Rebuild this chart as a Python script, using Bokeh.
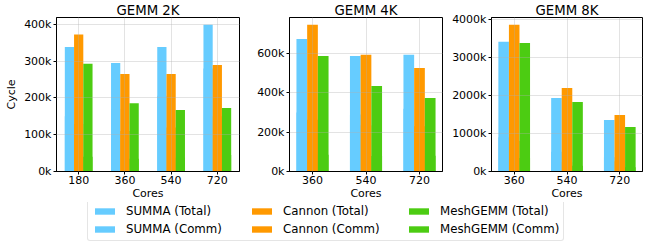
import numpy as np
from bokeh.plotting import figure
from bokeh.models import Range1d, FixedTicker, Legend, LegendItem
from bokeh.layouts import row, column
from bokeh.embed import file_html
from bokeh.resources import INLINE

# ---------------- data (values in thousands of cycles) ----------------
algs = ["SUMMA", "Cannon", "MeshGEMM"]
titles = ["GEMM 2K", "GEMM 4K", "GEMM 8K"]

cores_2k = ["180", "360", "540", "720"]
summa_total_2k = [339, 295, 339, 399]
cannon_total_2k = [373, 265, 265, 290]
mesh_total_2k = [293, 186, 167, 173]
summa_comm_2k = [150, 170, 206, 280]
cannon_comm_2k = [129, 110, 120, 150]
mesh_comm_2k = [40, 35, 38, 45]

cores_4k = ["360", "540", "720"]
summa_total_4k = [675, 588, 594]
cannon_total_4k = [747, 594, 527]
mesh_total_4k = [588, 435, 374]
summa_comm_4k = [300, 290, 320]
cannon_comm_4k = [264, 236, 230]
mesh_comm_4k = [85, 79, 80]

cores_8k = ["360", "540", "720"]
summa_total_8k = [3404, 1930, 1351]
cannon_total_8k = [3851, 2193, 1482]
mesh_total_8k = [3377, 1825, 1167]
summa_comm_8k = [900, 520, 377]
cannon_comm_8k = [798, 245, 270]
mesh_comm_8k = [355, 150, 110]

yticks_2k = [0, 100, 200, 300, 400]
yticks_4k = [0, 200, 400, 600]
yticks_8k = [0, 1000, 2000, 3000, 4000]

# ---------------- style ----------------
FONT = "DejaVu Sans"
colors = {"SUMMA": "#66CCFF", "Cannon": "#FF9900", "MeshGEMM": "#4CCC12"}
BAR_W = 0.2
H = 202


def make_panel(title, cores, totals, comms, yticks, width, left, right, ylabel):
    n = len(cores)
    x = np.arange(n)
    lo, hi = -1.5 * BAR_W, (n - 1) + 1.5 * BAR_W
    m = 0.05 * (hi - lo)
    ymax = 1.05 * max(max(t) for t in totals)
    p = figure(width=width, height=H, title=title,
               x_range=Range1d(lo - m, hi + m), y_range=Range1d(0, ymax),
               output_backend="svg", toolbar_location=None,
               min_border_left=left, min_border_right=right,
               min_border_top=0, min_border_bottom=0)
    # comm bars sit behind the totals
    for i, alg in enumerate(algs):
        xs = x + (i - 1) * BAR_W
        p.vbar(x=xs, top=comms[i], width=BAR_W, fill_color=colors[alg], line_color=None)
    for i, alg in enumerate(algs):
        xs = x + (i - 1) * BAR_W
        p.vbar(x=xs, top=totals[i], width=BAR_W, fill_color=colors[alg], line_color=None)

    p.xaxis.ticker = FixedTicker(ticks=[int(v) for v in x])
    p.xaxis.major_label_overrides = {int(v): c for v, c in zip(x, cores)}
    p.yaxis.ticker = FixedTicker(ticks=yticks)
    p.yaxis.major_label_overrides = {t: f"{t}k" for t in yticks}
    p.xgrid.ticker = FixedTicker(ticks=[int(v) for v in x])
    p.ygrid.ticker = FixedTicker(ticks=yticks)
    p.grid.grid_line_color = "#b0b0b0"
    p.grid.grid_line_alpha = 0.35
    p.grid.level = "overlay"

    p.xaxis.axis_label = "Cores"
    if ylabel:
        p.yaxis.axis_label = ylabel
    for ax in p.axis:
        ax.axis_label_text_font = FONT
        ax.axis_label_text_font_size = "11px"
        ax.axis_label_text_font_style = "normal"
        ax.axis_label_text_color = "black"
        ax.axis_label_standoff = 0
        ax.major_label_text_font = FONT
        ax.major_label_text_font_size = "11px"
        ax.major_label_text_color = "black"
        ax.major_label_standoff = 1
        ax.major_tick_in = 0
        ax.major_tick_out = 3
        ax.major_tick_line_color = "black"
        ax.minor_tick_line_color = None
        ax.axis_line_color = "black"
    p.yaxis.major_label_standoff = 2
    p.yaxis.axis_label_standoff = 3
    p.outline_line_color = "black"
    p.outline_line_width = 1
    p.title.text_font = FONT
    p.title.text_font_size = "13.3px"
    p.title.text_font_style = "normal"
    p.title.text_color = "black"
    p.title.align = "center"
    p.title.standoff = 0
    p.background_fill_color = "white"
    return p


p1 = make_panel(titles[0], cores_2k,
                [summa_total_2k, cannon_total_2k, mesh_total_2k],
                [summa_comm_2k, cannon_comm_2k, mesh_comm_2k],
                yticks_2k, 244, 56, 5, "Cycle")
p2 = make_panel(titles[1], cores_4k,
                [summa_total_4k, cannon_total_4k, mesh_total_4k],
                [summa_comm_4k, cannon_comm_4k, mesh_comm_4k],
                yticks_4k, 203, 45, 5, None)
p3 = make_panel(titles[2], cores_8k,
                [summa_total_8k, cannon_total_8k, mesh_total_8k],
                [summa_comm_8k, cannon_comm_8k, mesh_comm_8k],
                yticks_8k, 200, 44, 5, None)

# ---------------- legend figure ----------------
pl = figure(width=647, height=41, x_range=Range1d(0, 1), y_range=Range1d(0, 1),
            output_backend="svg", toolbar_location=None, min_border=0,
            x_axis_location=None, y_axis_location=None)
pl.grid.visible = False
pl.outline_line_color = None
items = []
for alg in algs:
    for kind in ["Total", "Comm"]:
        # zero-height bar: nothing drawn in the plot, only the legend swatch
        r = pl.vbar(x=[0.5], top=[0], width=0.01, fill_color=colors[alg], line_color=None)
        items.append(LegendItem(label=f"{alg} ({kind})", renderers=[r]))
leg = Legend(items=items, location=(87, 2), orientation="vertical", ncols=3,
             glyph_width=25, glyph_height=8, label_standoff=9, label_width=119,
             label_height=13, spacing=4, padding=4, margin=0,
             border_line_color="#cccccc", border_line_width=1,
             background_fill_color="white", background_fill_alpha=1,
             label_text_font=FONT, label_text_font_size="11.8px",
             label_text_color="black")
if "border_radius" in Legend.properties():
    leg.border_radius = 3
pl.add_layout(leg, "center")

layout = column(row(p1, p2, p3), pl)
open("out.html", "w").write(file_html(layout, INLINE))
